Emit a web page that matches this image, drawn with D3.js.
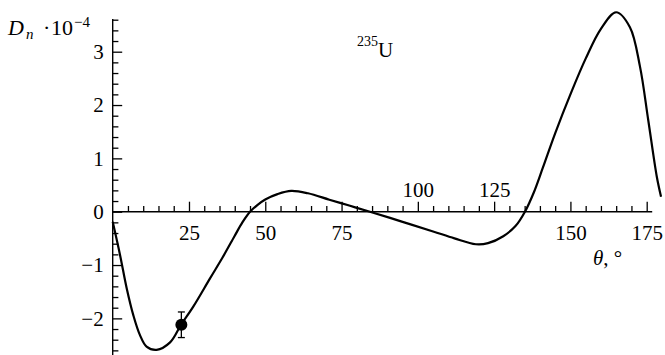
<!DOCTYPE html>
<html><head><meta charset="utf-8">
<script src="https://cdn.jsdelivr.net/npm/d3@7"></script>
<style>
body{margin:0;background:#fff;}
svg{display:block;}
text{font-family:"Liberation Serif","DejaVu Serif",serif;fill:#000;}
</style></head>
<body>
<svg id="c" width="665" height="355"></svg>
<script>
// Data
const theta = [0, 2.4, 4.6, 6.75, 8.9, 11.1, 14.4, 18.8, 22.4, 26.4, 31.9, 36, 40, 42.5, 45, 47.5, 50, 54, 58.5, 64, 71, 77.5, 84.3, 95, 105, 112, 119, 123, 128, 132, 135.1, 138, 141, 145, 150, 155, 160, 165, 169.5, 172.8, 175.5, 178.3, 179.7];
const Dn    = [-0.19, -0.81, -1.44, -1.94, -2.31, -2.53, -2.59, -2.45, -2.12, -1.78, -1.25, -0.86, -0.45, -0.2, 0.0, 0.13, 0.23, 0.33, 0.39, 0.345, 0.225, 0.115, 0.0, -0.19, -0.37, -0.5, -0.61, -0.59, -0.46, -0.27, 0.0, 0.36, 0.83, 1.47, 2.2, 2.87, 3.43, 3.74, 3.46, 2.72, 1.72, 0.66, 0.28];
const expTheta = [22.5];
const expD = [-2.12];
const expErr = [0.24];
const xTicksBelow = [25, 50, 75, 150, 175];
const xTicksAbove = [100, 125];
const yTicks = [-2, -1, 0, 1, 2, 3];

const svg = d3.select("#c");
const x = d3.scaleLinear().domain([0, 175]).range([112.7, 646.7]);
const y = d3.scaleLinear().domain([0, 3]).range([211.7, 51.7]);

const xMinor = d3.range(0, 176, 5).filter(v => v % 25 !== 0);
const xMajor = d3.range(25, 176, 25);
const yMinor = d3.range(-26, 37, 2).map(v => v / 10).filter(v => Math.abs(v - Math.round(v)) > 1e-6);

const FONT = '"Liberation Serif","DejaVu Serif",serif';

svg.append("line").attr("x1", x(0)).attr("x2", x(176.8)).attr("y1", y(0)).attr("y2", y(0))
  .attr("stroke", "#000").attr("stroke-width", 1.4);
svg.append("line").attr("x1", x(0)).attr("x2", x(0)).attr("y1", 19).attr("y2", 355)
  .attr("stroke", "#000").attr("stroke-width", 1.4);

function styleTicks(g){ g.select(".domain").remove(); g.selectAll("line").attr("stroke","#000").attr("stroke-width",1.3); }
function styleLabels(g){ g.select(".domain").remove(); g.attr("font-family", FONT).attr("font-size", 21);
  g.selectAll("text").attr("font-size", 21).style("font-family", FONT).attr("fill", "#000"); }

svg.append("g").attr("transform", `translate(0,${y(0)})`)
  .call(d3.axisTop(x).tickValues(xMinor).tickSize(5.7).tickFormat("")).call(styleTicks);
svg.append("g").attr("transform", `translate(0,${y(0)})`)
  .call(d3.axisTop(x).tickValues(xMajor).tickSize(10).tickFormat("")).call(styleTicks);
svg.append("g").attr("transform", `translate(${x(0)},0)`)
  .call(d3.axisRight(y).tickValues(yMinor).tickSize(5.7).tickFormat("")).call(styleTicks);
svg.append("g").attr("transform", `translate(${x(0)},0)`)
  .call(d3.axisRight(y).tickValues(yTicks).tickSize(9.5).tickFormat("")).call(styleTicks);

svg.append("g").attr("transform", `translate(0,${y(0)})`)
  .call(d3.axisBottom(x).tickValues(xTicksBelow).tickSize(0).tickPadding(13).tickFormat(d3.format("d")))
  .call(styleLabels);
svg.append("g").attr("transform", `translate(0,${y(0)})`)
  .call(d3.axisTop(x).tickValues(xTicksAbove).tickSize(0).tickPadding(15).tickFormat(d3.format("d")))
  .call(styleLabels);
svg.append("g").attr("transform", `translate(${x(0)},0)`)
  .call(d3.axisLeft(y).tickValues(yTicks).tickSize(0).tickPadding(9).tickFormat(d => d < 0 ? "\u2212" + (-d) : String(d)))
  .call(styleLabels);

const pts = theta.map((t, i) => [t, Dn[i]]);
svg.append("path").datum(pts)
  .attr("d", d3.line().x(d => x(d[0])).y(d => y(d[1])).curve(d3.curveCatmullRom.alpha(0.5)))
  .attr("fill", "none").attr("stroke", "#000").attr("stroke-width", 2.2).attr("stroke-linejoin", "round");

expTheta.forEach((t, i) => {
  const cx = x(t), cy = y(expD[i]);
  const y1 = y(expD[i] + expErr[i]), y2 = y(expD[i] - expErr[i]);
  svg.append("line").attr("x1", cx).attr("x2", cx).attr("y1", y1).attr("y2", y2).attr("stroke", "#000").attr("stroke-width", 1.3);
  [y1, y2].forEach(yy => svg.append("line").attr("x1", cx - 3.5).attr("x2", cx + 3.5).attr("y1", yy).attr("y2", yy).attr("stroke", "#000").attr("stroke-width", 1.3));
  svg.append("circle").attr("cx", cx).attr("cy", cy).attr("r", 6).attr("fill", "#000");
});

svg.append("text").attr("x", 8).attr("y", 35).attr("font-size", 22).attr("font-style", "italic").text("D");
svg.append("text").attr("x", 26).attr("y", 39).attr("font-size", 15).attr("font-style", "italic").text("n");
svg.append("text").attr("x", 43).attr("y", 35).attr("font-size", 22).text("\u00B7");
svg.append("text").attr("x", 51).attr("y", 35).attr("font-size", 22).text("10");
svg.append("text").attr("x", 74).attr("y", 27).attr("font-size", 15).text("\u22124");

const xt = svg.append("text").attr("x", 593).attr("y", 265).attr("font-size", 21);
xt.append("tspan").text("\u03B8").attr("font-style", "italic");
xt.append("tspan").text(", \u00B0");

const ut = svg.append("text").attr("x", 357).attr("y", 57).attr("font-size", 21);
ut.append("tspan").text("235").attr("font-size", 14).attr("dy", -11);
ut.append("tspan").text("U").attr("dy", 11);
</script>
</body></html>
